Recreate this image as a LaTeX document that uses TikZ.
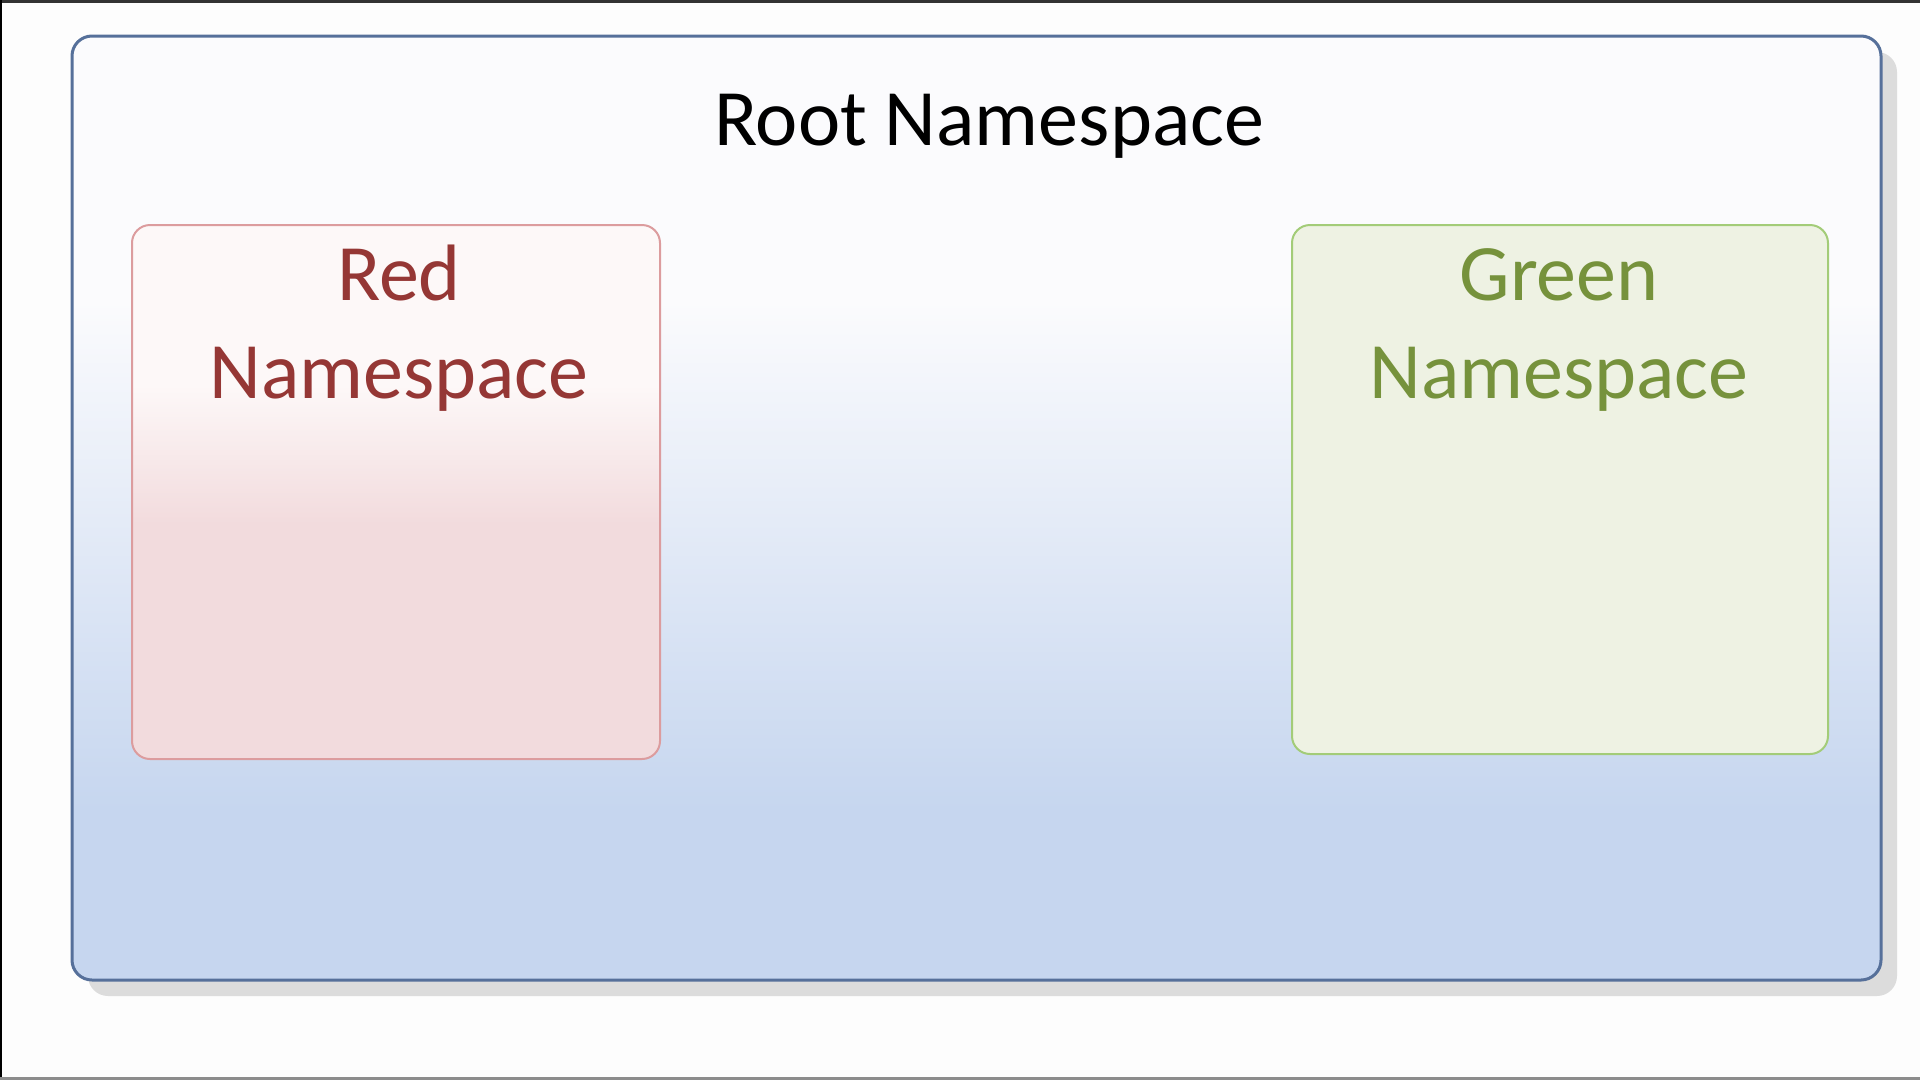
\documentclass[tikz,border=0pt]{standalone}
\usepackage{fontspec}
\setmainfont{Carlito}
\definecolor{pagebg}{HTML}{FDFDFD}
\definecolor{rootborder}{HTML}{56709A}
\definecolor{rootblue}{HTML}{C6D6EF}
\definecolor{roottop}{HTML}{FBFBFD}
\definecolor{shadowgray}{HTML}{DCDCDC}
\definecolor{redborder}{HTML}{DC9C9E}
\definecolor{redtop}{HTML}{FDF8F8}
\definecolor{redbottom}{HTML}{F2DBDD}
\definecolor{redtext}{HTML}{953735}
\definecolor{greenborder}{HTML}{A3CC78}
\definecolor{greenfill}{HTML}{EEF2E3}
\definecolor{greentext}{HTML}{76923C}
\pgfdeclareverticalshading{rootshade}{100bp}{color(0bp)=(rootblue); color(34bp)=(rootblue); color(61bp)=(roottop); color(100bp)=(roottop)}
\pgfdeclareverticalshading{redshade}{100bp}{color(0bp)=(redbottom); color(47bp)=(redbottom); color(60bp)=(redtop); color(100bp)=(redtop)}
\tikzset{
  nsbox/.style={rectangle, rounded corners=20pt, inner sep=0pt, outer sep=0pt},
  rootbox/.style={nsbox, draw=rootborder, line width=3pt, shading=rootshade},
  redbox/.style={nsbox, rounded corners=18pt, draw=redborder, line width=2pt, shading=redshade},
  greenbox/.style={nsbox, rounded corners=18pt, draw=greenborder, line width=2pt, fill=greenfill},
  shadowbox/.style={nsbox, fill=shadowgray},
  bigtext/.style={anchor=base, inner sep=0pt, font=\fontsize{80}{96}\selectfont}
}
\begin{document}
\begin{tikzpicture}[x=1pt,y=-1pt]
\useasboundingbox (0,0) rectangle (1920,1080);
\fill[pagebg] (0,0) rectangle (1920,1080);
% frame edges
\fill[black!80] (0,0) rectangle (1920,3);
\fill[black] (0,0) rectangle (2,1080);
\fill[black!45] (0,1077) rectangle (1920,1080);
% shadow and outer box
\node[shadowbox, minimum width=1809pt, minimum height=944pt] (shadow) at (992.5,524) {};
\node[rootbox, minimum width=1809pt, minimum height=944pt] (root) at (976.5,508) {};
\node[bigtext] (roottitle) at (989,145) {Root Namespace};
% red namespace
\node[redbox, minimum width=528pt, minimum height=534pt] (red) at (396,492) {};
\node[bigtext, text=redtext] (redl1) at (399,300) {Red};
\node[bigtext, text=redtext] (redl2) at (399,398) {Namespace};
% green namespace
\node[greenbox, minimum width=536pt, minimum height=529pt] (green) at (1560,489.5) {};
\node[bigtext, text=greentext] (greenl1) at (1559,300) {Green};
\node[bigtext, text=greentext] (greenl2) at (1559,398) {Namespace};
\end{tikzpicture}
\end{document}
